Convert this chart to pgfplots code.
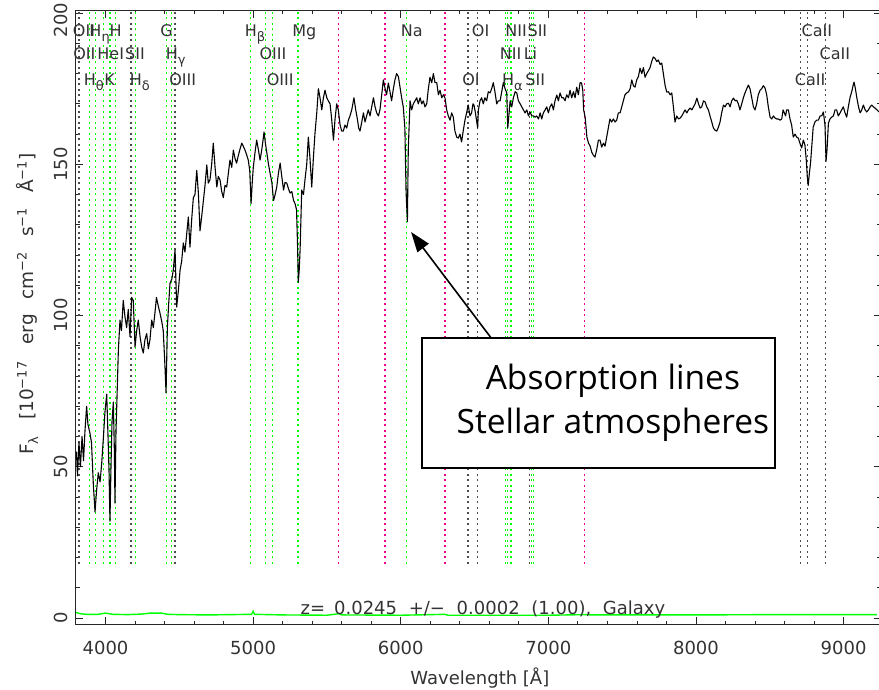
\documentclass[border=0pt]{standalone}
\usepackage{pgfplots}
\pgfplotsset{compat=1.18}
\usepackage{fontspec}
\setmainfont{DejaVu Sans}
\newfontfamily\boxfont{Open Sans}
\usetikzlibrary{arrows.meta}
\tikzset{
  lin/.style={line width=1.2pt, dash pattern=on 1.6pt off 3.9pt},
  lbl/.style={anchor=base west, inner sep=0pt, font=\fontsize{16}{16}\selectfont, text=black!80},
}
% lowered Greek subscript as used in the line names
\newcommand\sub[1]{\raisebox{-5pt}{\fontsize{13}{13}\selectfont #1}}

% observed spectrum, flux in 1e-17 erg/cm^2/s/A
\pgfplotstableread{
lam flux
3803 55
3810 47
3820 58
3830 50
3841 60
3851 52
3861 62
3872 70
3881 64
3895 61
3905 58
3917 44.6
3929 35
3939 42
3951 48
3963 45
3974 51
3986 60
3996 68
4008 74
4017 60
4024 48
4030 32
4037 50
4044 65
4053 71.4
4060 55
4064 38
4071 62
4076 70
4087 88.6
4098 98.5
4108 95
4120 105
4132 99.5
4143 96
4154 102
4166 93
4177 106
4188 105
4200 89.6
4211 95
4222 98.5
4234 93
4245 89.6
4256 87.6
4267 92
4279 94
4290 89
4301 92
4313 98.5
4324 96
4335 101
4345 106
4358 103
4369 100.8
4381 98
4391 95
4402 84
4410 74.4
4419 96
4428 104
4437 110.7
4449 112
4459 115
4471 121.7
4482 102.8
4493 108
4505 115
4516 118
4527 124
4538 121
4550 127
4561 132.6
4572 122.6
4584 132
4595 139
4606 140
4618 148
4629 140.5
4640 128
4652 133
4663 138
4674 143
4686 149.8
4696 143.8
4708 145
4719 150
4730 157
4742 149
4754 142.5
4764 146
4776 144.8
4787 141
4798 139
4809 143
4821 142.5
4832 147
4843 151.4
4855 149
4866 154.7
4877 152
4888 150.4
4900 153
4911 155
4923 157
4933 156
4945 154.7
4957 153
4967 151.4
4977 148
4986 137
4994 144
5001 149
5013 154
5024 158
5035 155
5047 151.4
5059 155
5067 158
5074 160.7
5083 157
5093 153.7
5104 150
5115 147
5127 144
5138 138
5149 140
5160 142.5
5171 147
5183 150.4
5194 146
5206 141.5
5216 144
5228 143.8
5239 142
5250 140.5
5262 141
5274 138
5284 137
5294 135
5301 123
5306 111
5312 115
5318 121.6
5329 141.5
5341 140
5351 144.8
5363 150
5374 159
5385 152
5397 142.5
5408 152
5419 160.3
5431 167
5442 175
5453 172
5465 168
5476 172
5487 174.5
5499 172
5509 171
5521 170
5532 165
5544 158
5555 165
5566 170
5577 168
5589 163
5600 161
5611 161
5622 163
5634 162
5645 164.6
5656 166
5668 168
5683 172
5695 168
5706 165
5715 162
5724 161
5736 164
5747 167
5758 164
5769 166
5780 168
5792 166
5803 169
5815 172
5826 169
5837 167
5849 166
5859 168
5871 173
5882 177.9
5894 175
5904 173
5916 176.9
5927 174
5938 171
5950 175
5961 178
5972 180
5984 179
5995 175.5
6006 172
6017 169
6028 162
6036 141
6045 131
6051 155
6063 171
6074 168
6085 170
6097 171
6108 172
6119 170
6131 172
6142 170
6153 171
6164 169
6176 170
6187 175
6198 178.8
6210 177
6221 180
6232 177
6244 177
6255 173
6266 174.5
6278 172
6289 173
6300 171.9
6311 168
6322 166
6334 164.6
6345 167
6356 165.6
6367 161
6379 159
6390 158.7
6401 160
6412 157.4
6423 161
6435 164.6
6446 167
6457 169.6
6469 166
6480 167
6489 170
6496 169.6
6506 167
6521 162
6526 168
6537 171
6548 172
6559 170
6570 172
6582 171
6593 174
6605 173.6
6616 175
6627 177
6638 174
6650 170
6661 171
6673 171
6684 174
6695 177
6707 175
6718 173.6
6725 162
6732 166
6741 171
6752 169
6763 172
6775 174
6786 173.6
6797 171
6809 170
6820 169
6831 168
6842 167
6854 168
6865 166
6876 167.3
6888 166
6899 166
6910 165.6
6921 166
6933 165
6944 167
6955 165
6966 167
6978 168
6989 169
7000 167
7011 169
7023 170
7034 168
7045 171
7057 172.9
7068 171
7079 173.6
7091 172
7102 172
7113 171
7124 173
7136 172
7147 174.5
7158 172
7170 174
7181 172
7192 175.5
7203 173
7215 177
7225 176.9
7233 174.5
7239 168
7249 165.6
7261 159
7272 157
7283 156
7294 154
7305 153
7316 152.4
7328 155
7339 158
7350 158
7361 155.7
7373 157
7384 156
7395 159
7406 162
7417 165
7429 164
7440 165
7452 164
7463 164.6
7474 167
7486 167
7497 169
7508 171
7519 173
7531 173.6
7543 174
7554 175
7565 177.9
7576 176
7587 175.5
7599 178
7610 179
7621 181.8
7633 180
7644 182
7655 178.8
7666 180
7678 181
7689 182
7700 184
7711 185.5
7723 185
7734 184
7745 184.5
7757 183
7768 183.5
7779 180
7791 176
7802 173.9
7813 174
7825 173
7836 173.6
7847 169
7858 164
7870 166
7881 165
7893 165.3
7904 166
7915 167
7926 168
7938 167
7949 168
7960 168.6
7972 168
7983 169
7994 170
8006 171.9
8017 170
8028 168.6
8039 169
8051 171
8062 170.6
8073 169
8084 168
8095 166
8107 164
8118 162
8129 161.3
8141 161
8152 162.3
8163 164
8174 167
8186 169.6
8197 169
8208 170
8220 170.2
8231 169
8242 171
8254 171.9
8265 171
8276 171.2
8287 170
8298 168
8310 170
8321 172
8332 173.6
8344 175
8355 176.2
8366 175
8377 172.2
8389 169
8400 168
8411 170
8422 173
8434 174.5
8445 175
8456 176
8468 175.2
8479 173
8490 169
8502 165.6
8513 165
8524 166
8536 165.3
8547 165
8558 165
8570 164.6
8581 165
8590 168
8596 167.3
8607 166
8614 168
8626 168
8637 165
8648 163
8659 159
8671 160
8682 159
8693 158.7
8704 157
8716 155.4
8727 158
8738 156.4
8748 151
8754 146
8760 143
8768 147
8776 150.4
8786 157
8794 162.3
8806 164
8817 164.6
8829 164.6
8841 166
8852 166
8863 167.3
8874 163
8881 151
8888 155
8897 163.6
8908 165
8919 165.6
8931 166
8942 168
8953 168
8964 166
8976 167
8987 168
8998 169
9010 167
9021 165.6
9032 169
9044 172.2
9055 174
9064 176
9071 177.2
9080 175
9089 172.2
9101 169
9112 167
9123 168
9134 169.6
9146 168
9157 167.3
9168 168
9180 169
9191 169.6
9202 169
9213 168.6
9226 168
9240 167.3
}\spectrum

% flux error
\pgfplotstableread{
lam err
3800 1.8
3830 1.4
3870 1.2
3950 1.2
4000 1.6
4050 1.2
4150 1.1
4250 1.3
4300 1.6
4380 1.6
4420 1.2
4500 1.1
4700 1.0
4990 1.2
5000 2.2
5010 1.2
5200 1.0
5500 0.9
5580 1.4
5600 1.0
6000 0.9
6300 1.2
6320 0.9
7000 0.9
7250 1.1
7300 1.0
8000 1.0
8500 1.1
9000 1.1
9225 1.1
}\errspec

\begin{document}
\begin{tikzpicture}
\begin{axis}[
  at={(76pt,65pt)}, anchor=south west,
  scale only axis, width=804.5pt, height=613pt,
  xmin=3800, xmax=9250, ymin=-2, ymax=200.7,
  xtick={4000,5000,...,9000}, ytick={0,50,...,200},
  yticklabels={0,50,100,150,{200\kern14pt}},
  minor x tick num=4, minor y tick num=4,
  tick align=inside, major tick length=7pt, minor tick length=3.5pt,
  every tick/.style={black!85, line width=0.8pt},
  axis line style={black!85, line width=1pt},
  clip mode=individual,
  /pgf/number format/assume math mode=true,
  /pgf/number format/1000 sep={},
  ticklabel style={font=\fontsize{18}{18}\selectfont, text=black!80},
  xticklabel style={anchor=north, inner sep=0pt, outer sep=17.5pt},
  yticklabel style={rotate=90, anchor=south, inner sep=0pt, outer sep=8.5pt},
  xlabel={Wavelength [Å]},
  xlabel style={at={(axis description cs:0.502,-0.0995)}, anchor=base,
    font=\fontsize{18}{18}\selectfont, text=black!80},
  ylabel={F\sub{λ}\hspace{0.9em}[10\textsuperscript{−17}\hspace{0.9em}erg\hspace{0.8em}cm\textsuperscript{−2}\hspace{0.8em}s\textsuperscript{−1}\hspace{0.8em}Å\textsuperscript{−1}]},
  ylabel style={at={(axis description cs:-0.061,0.522)}, anchor=center,
    font=\fontsize{18.5}{18.5}\selectfont, text=black!80},
]

% line markers: emission/absorption (redshifted) and sky lines
\pgfplotsinvokeforeach{3892,3930,3984,4031,4067,4203,4411,4448,4982,5082,5131,5304,6040,6710,6725,6747,6883,6898}{
  \addplot[lin, green] coordinates {(#1,18) (#1,200.7)};
}
\pgfplotsinvokeforeach{3818,3821,4172,4471,6456,6521,6872,8709,8754,8877}{
  \addplot[lin, black!70] coordinates {(#1,18) (#1,200.7)};
}
\pgfplotsinvokeforeach{5577,5893,6300,7246}{
  \addplot[lin, magenta] coordinates {(#1,18) (#1,200.7)};
}

% error spectrum and flux
\addplot[green, line width=1.4pt] table[x=lam, y=err] {\errspec};
\addplot[black, line width=1.1pt, line join=round] table[x=lam, y=flux] {\spectrum};

% line names, three rows
\node[lbl] at (axis cs:3778,192.4) {OII};
\node[lbl] at (axis cs:3890,192.4) {H\sub{η}};
\node[lbl] at (axis cs:4027,192.4) {H};
\node[lbl] at (axis cs:4371,192.4) {G};
\node[lbl] at (axis cs:4942,192.4) {H\sub{β}};
\node[lbl] at (axis cs:5264,192.4) {Mg};
\node[lbl] at (axis cs:6000,192.4) {Na};
\node[lbl] at (axis cs:6481,192.4) {OI};
\node[lbl] at (axis cs:6707,192.4) {NII};
\node[lbl] at (axis cs:6858,192.4) {SII};
\node[lbl] at (axis cs:8714,192.4) {CaII};

\node[lbl] at (axis cs:3781,184.5) {OII};
\node[lbl] at (axis cs:3944,184.5) {HeI};
\node[lbl] at (axis cs:4132,184.5) {SII};
\node[lbl] at (axis cs:4408,184.5) {H\sub{γ}};
\node[lbl] at (axis cs:5042,184.5) {OIII};
\node[lbl] at (axis cs:6670,184.5) {NII};
\node[lbl] at (axis cs:6832,184.5) {Li};
\node[lbl] at (axis cs:8837,184.5) {CaII};

\node[lbl] at (axis cs:3852,176.2) {H\sub{θ}};
\node[lbl] at (axis cs:3991,176.2) {K};
\node[lbl] at (axis cs:4163,176.2) {H\sub{δ}};
\node[lbl] at (axis cs:4431,176.2) {OIII};
\node[lbl] at (axis cs:5091,176.2) {OIII};
\node[lbl] at (axis cs:6416,176.2) {OI};
\node[lbl] at (axis cs:6685,176.2) {H\sub{α}};
\node[lbl] at (axis cs:6843,176.2) {SII};
\node[lbl] at (axis cs:8669,176.2) {CaII};

% redshift fit
\node[anchor=base, inner sep=0pt, font=\fontsize{18}{18}\selectfont, text=black!80]
  at (axis cs:6557,1.0) {z=\hspace{0.5em}0.0245\hspace{0.65em}+/−\hspace{0.65em}0.0002\hspace{0.65em}(1.00),\hspace{0.65em}Galaxy};

% callout
\draw[black, line width=1.3pt, fill=white] (axis cs:6144,92.6) rectangle (axis cs:8536,49.6);
\node[align=center, font=\boxfont\fontsize{33.5}{44}\selectfont, inner sep=0pt]
  at (axis cs:7437,71.3) {Absorption lines\\Stellar atmospheres};
\draw[black, line width=1.6pt, -{Triangle[length=20pt, width=14pt]}]
  (axis cs:6612,92.6) -- (axis cs:6070,127.6);
\end{axis}
\pgfresetboundingbox
\useasboundingbox (0,0) rectangle (879pt,689pt);
\end{tikzpicture}
\end{document}
